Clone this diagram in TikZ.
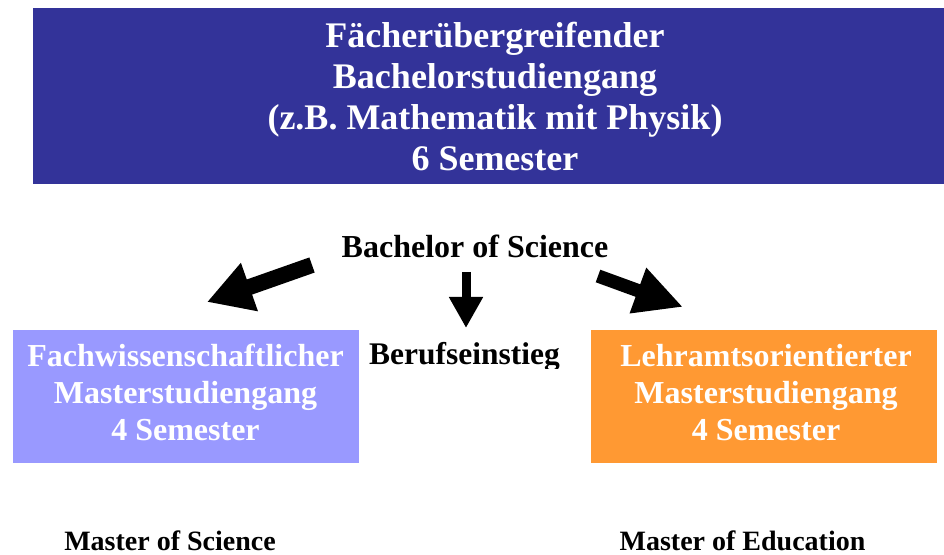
\documentclass[tikz,border=0pt]{standalone}
\usepackage{fontspec}
\setmainfont{Liberation Serif}
\usetikzlibrary{arrows.meta}
\definecolor{topblue}{HTML}{333399}
\definecolor{lilac}{HTML}{9999FF}
\definecolor{orng}{HTML}{FF9933}
\tikzset{
  box/.style={inner sep=0pt, outer sep=0pt, draw=none},
  boxtext/.style={anchor=base, inner sep=0pt, text=white, font=\bfseries\fontsize{24}{27.75}\selectfont},
  plain/.style={anchor=base, inner sep=0pt, text=black},
  blockarrow/.style={draw=black, line cap=butt},
}
\newcommand{\threelines}[3]{\begin{tabular}[t]{@{}c@{}}#1\\#2\\#3\end{tabular}}
\begin{document}
\begin{tikzpicture}[x=0.75pt,y=-0.75pt]
\useasboundingbox (0,0) rectangle (944,555);
% top box
\node[box, fill=topblue, minimum width=683.25pt, minimum height=132pt] (top) at (488.5,96) {};
\node[anchor=base, inner sep=0pt, text=white, font=\bfseries\fontsize{27}{30.75}\selectfont] (toptext) at (495,48)
  {\begin{tabular}[t]{@{}c@{}}Fächerübergreifender\\Bachelorstudiengang\\(z.B. Mathematik mit Physik)\\6 Semester\end{tabular}};
% bachelor label
\node[plain, font=\bfseries\fontsize{24}{28}\selectfont] (bsc) at (475,258) {Bachelor of Science};
% arrows
\coordinate (lt) at (312,265); \coordinate (lh) at (207,302);
\coordinate (ct) at (466,272); \coordinate (ch) at (466,328);
\coordinate (rt) at (598,276); \coordinate (rh) at (683,307);
\draw[blockarrow, line width=12pt, -{Triangle[length=33.75pt,width=36pt]}] (lt) -- (lh);
\draw[blockarrow, line width=6.75pt, -{Triangle[length=23.25pt,width=24pt]}] (ct) -- (ch);
\draw[blockarrow, line width=10pt, -{Triangle[length=36pt,width=33.75pt]}] (rt) -- (rh);
% left box
\node[box, fill=lilac, minimum width=259.5pt, minimum height=99.75pt] (lbox) at (185.5,396.5) {};
\node[boxtext] (ltext) at (185.5,366) {\threelines{Fachwissenschaftlicher}{Masterstudiengang}{4 Semester}};
% right box
\node[box, fill=orng, minimum width=259.5pt, minimum height=99.75pt] (rbox) at (764,396.5) {};
\node[boxtext] (rtext) at (766,366) {\threelines{Lehramtsorientierter}{Masterstudiengang}{4 Semester}};
% Berufseinstieg (clipped)
\begin{scope}
\clip (300,330) rectangle (600,368);
\node[plain, font=\bfseries\fontsize{23.6}{28}\selectfont] (beruf) at (464.5,364) {Berufseinstieg};
\end{scope}
% bottom labels
\node[plain, font=\bfseries\fontsize{21}{25}\selectfont] (msc) at (170,550) {Master of Science};
\node[plain, font=\bfseries\fontsize{21}{25}\selectfont] (med) at (742.5,550) {Master of Education};
\end{tikzpicture}
\end{document}
